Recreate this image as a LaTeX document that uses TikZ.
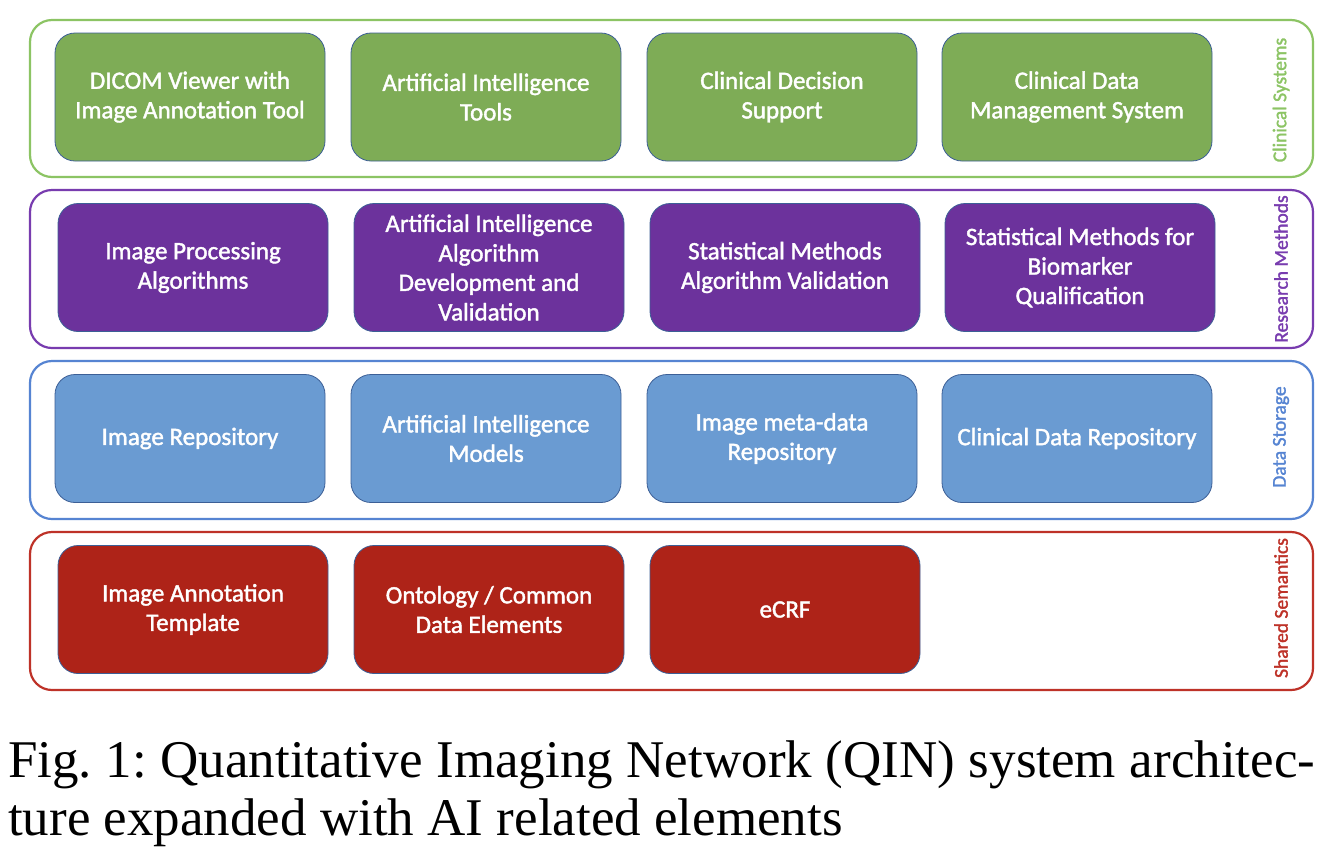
\documentclass[tikz,border=0pt]{standalone}
\usepackage{fontspec}
\setmainfont{Liberation Serif}
\newfontfamily\calib[FakeBold=1.6]{Carlito}
\definecolor{gfill}{RGB}{126,172,86}
\definecolor{gframe}{RGB}{140,196,100}
\definecolor{pfill}{RGB}{108,50,156}
\definecolor{pframe}{RGB}{120,60,175}
\definecolor{bfill}{RGB}{106,155,210}
\definecolor{bframe}{RGB}{86,132,210}
\definecolor{rfill}{RGB}{174,35,24}
\definecolor{rframe}{RGB}{190,50,40}
\definecolor{edgeblue}{RGB}{60,95,150}
\tikzset{
  frame/.style={draw=#1, line width=2.2pt, rounded corners=22pt, fill=white},
  cell/.style={draw=edgeblue, line width=0.8pt, fill=#1, rounded corners=20pt,
    minimum width=270pt, minimum height=128pt, text=white, align=center,
    font=\calib\fontsize{25}{29.5}\selectfont, inner sep=0pt},
  side/.style={rotate=90, text=#1, font=\calib\fontsize{19.5}{22}\selectfont},
}
\frenchspacing
\begin{document}
\begin{tikzpicture}[x=1pt,y=-1pt]
\useasboundingbox (0,0) rectangle (1332,847);
\fill[white] (0,0) rectangle (1332,847);
% frames
\draw[frame=gframe] (30,20) rectangle (1313,177);
\draw[frame=pframe] (30,190) rectangle (1313,348);
\draw[frame=bframe] (30,361) rectangle (1313,519);
\draw[frame=rframe] (30,532) rectangle (1313,690);
% side labels
\node[side=gframe] (lc) at (1281,100) {Clinical Systems};
\node[side=pframe] (lr) at (1281,269) {Research Methods};
\node[side=bframe] (ld) at (1281,437) {Data Storage};
\node[side=rframe] (ls) at (1281,608) {Shared Semantics};
% row 1
\node[cell=gfill] (c1) at (190,97) {DICOM Viewer with\\Image Annotation Tool};
\node[cell=gfill] (c2) at (486,97) {Artificial Intelligence\\Tools};
\node[cell=gfill] (c3) at (782,97) {Clinical Decision\\Support};
\node[cell=gfill] (c4) at (1077,97) {Clinical Data\\Management System};
% row 2
\node[cell=pfill] (r1) at (193,267.5) {Image Processing\\Algorithms};
\node[cell=pfill] (r2) at (489,267.5) {Artificial Intelligence\\Algorithm\\Development and\\Validation};
\node[cell=pfill] (r3) at (785,267.5) {Statistical Methods\\Algorithm Validation};
\node[cell=pfill] (r4) at (1080,267.5) {Statistical Methods for\\Biomarker\\Qualification};
% row 3
\node[cell=bfill] (d1) at (190,438.5) {Image Repository};
\node[cell=bfill] (d2) at (486,438.5) {Artificial Intelligence\\Models};
\node[cell=bfill] (d3) at (782,438.5) {Image meta-data\\Repository};
\node[cell=bfill] (d4) at (1077,438.5) {Clinical Data Repository};
% row 4
\node[cell=rfill] (s1) at (193,609.5) {Image Annotation\\Template};
\node[cell=rfill] (s2) at (489,609.5) {Ontology / Common\\Data Elements};
\node[cell=rfill] (s3) at (785,609.5) {eCRF};
% caption
\node[anchor=north west, text width=1307pt, align=justify, inner sep=0pt,
  font=\fontsize{53}{58}\selectfont] (cap) at (8,741)
  {Fig.~1: Quantitative Imaging Network (QIN) system architec-\linebreak ture expanded with AI related elements};
\end{tikzpicture}
\end{document}
